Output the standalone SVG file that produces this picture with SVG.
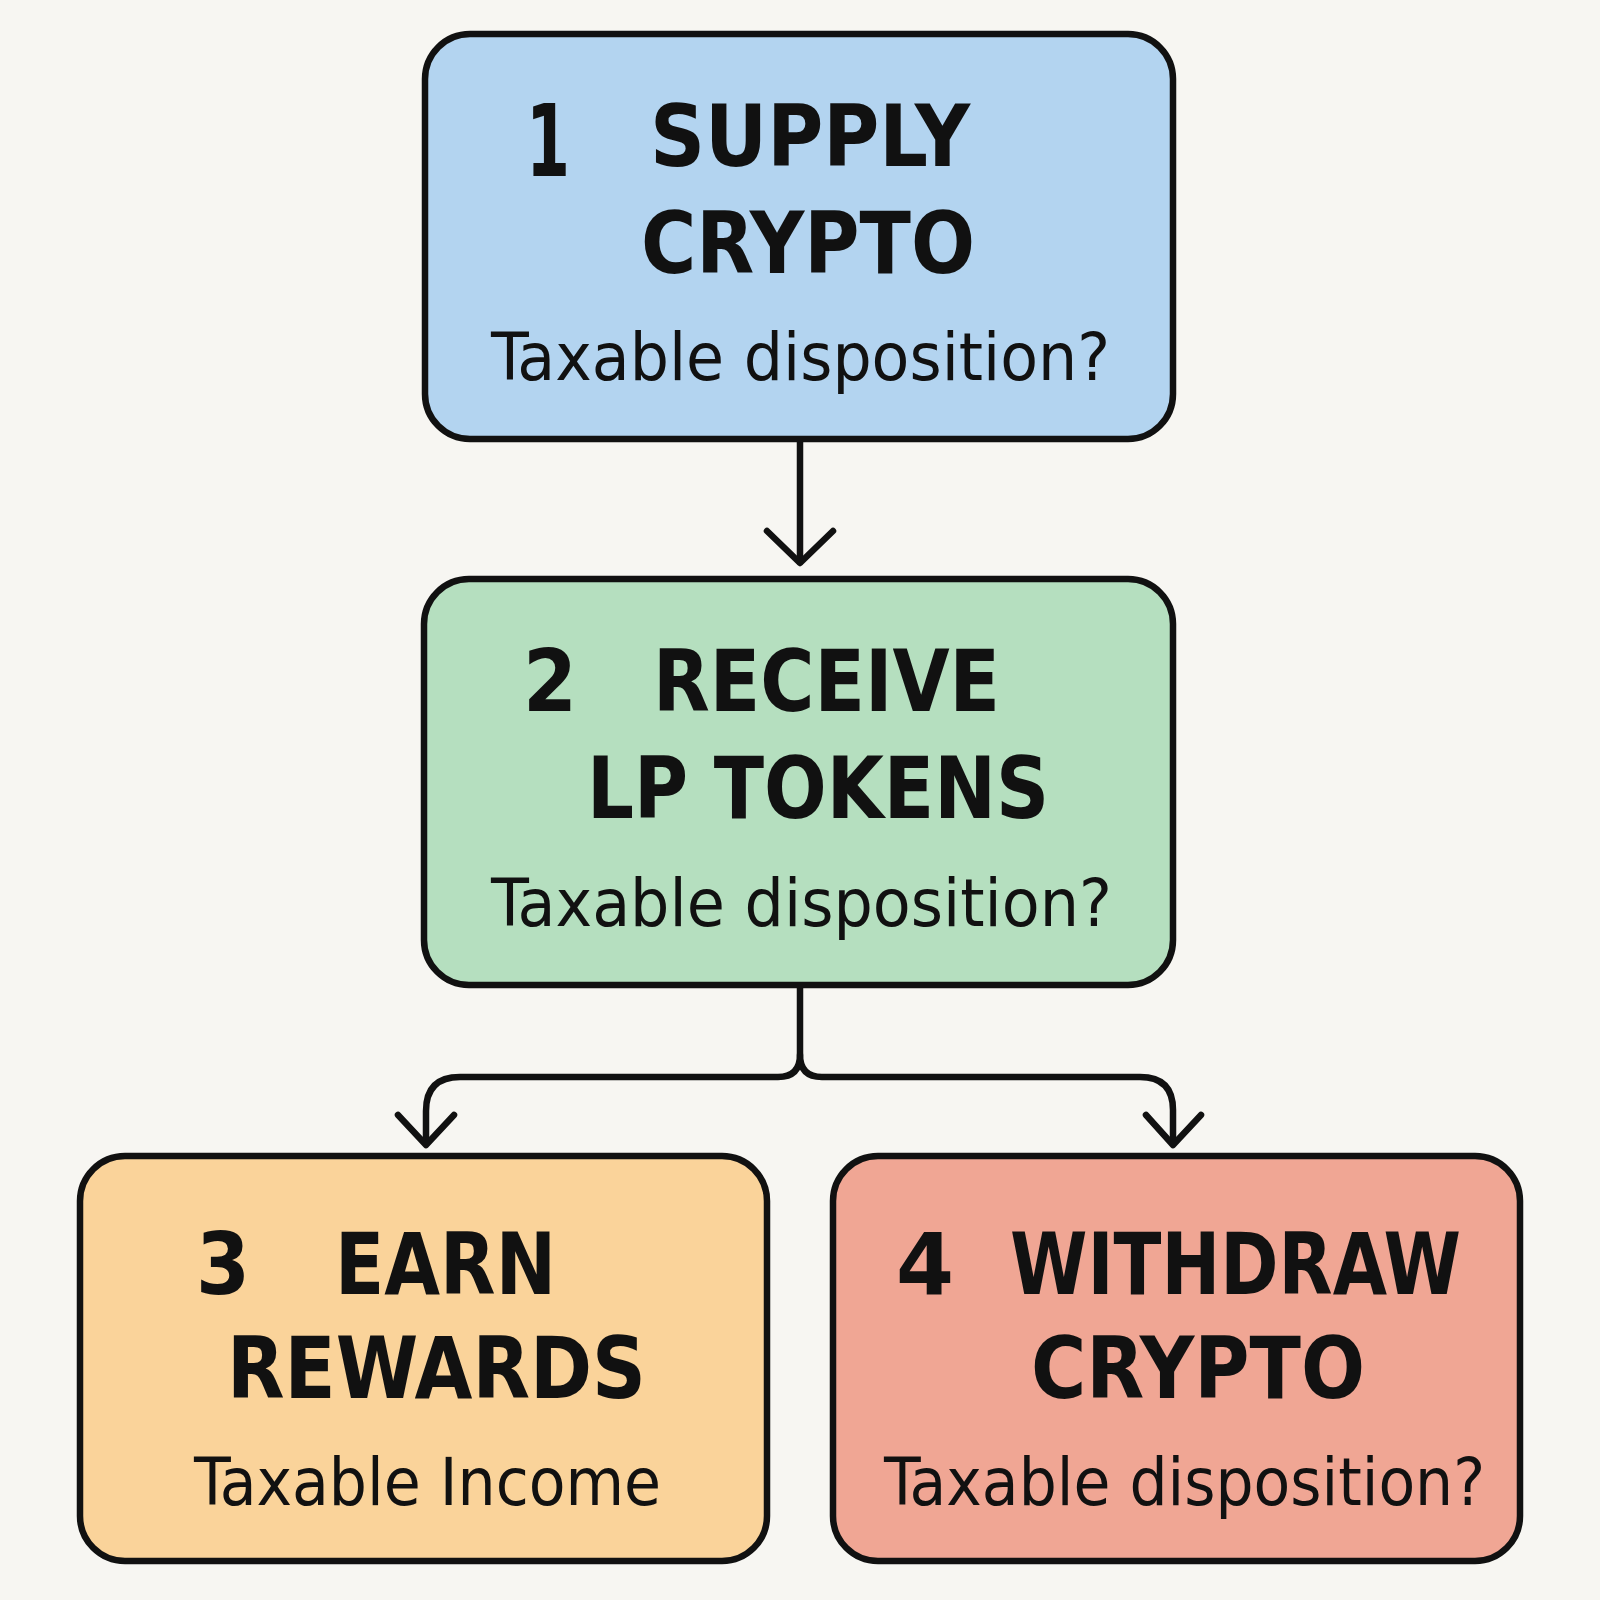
<svg xmlns="http://www.w3.org/2000/svg" width="1600" height="1600" viewBox="0 0 1600 1600">
<style>
.box{stroke:#111;stroke-width:6.5}
.t{font-family:"DejaVu Sans Condensed","DejaVu Sans","Liberation Sans",sans-serif;font-weight:bold;fill:#111;font-size:86px}
.s{font-family:"DejaVu Sans Condensed","DejaVu Sans","Liberation Sans",sans-serif;fill:#111;font-size:66px}
.c{fill:none;stroke:#111;stroke-width:6.5;stroke-linecap:round;stroke-linejoin:round}
</style>
<rect width="1600" height="1600" fill="#f7f6f2"/>
<g id="connectors">
<path class="c" d="M800,440 V562"/>
<path class="c" d="M767,531 L800,563 L833,531"/>
<path class="c" d="M800,986 V1055 Q800,1077 778,1077 H460 Q426,1077 426,1111 V1143"/>
<path class="c" d="M800,1055 Q800,1077 822,1077 H1140 Q1173,1077 1173,1110 V1143"/>
<path class="c" d="M398,1115 L426,1145 L454,1115"/>
<path class="c" d="M1146,1115 L1173,1145 L1201,1115"/>
</g>
<g id="node1">
<rect class="box" x="425" y="34" width="748" height="405" rx="45" fill="#b3d4f0"/>
<text class="t" x="526" y="176" style="font-size:100px" textLength="44" lengthAdjust="spacingAndGlyphs">1</text>
<text class="t" x="650" y="166" textLength="320" lengthAdjust="spacingAndGlyphs">SUPPLY</text>
<text class="t" x="641" y="273" textLength="334" lengthAdjust="spacingAndGlyphs">CRYPTO</text>
<text class="s" x="491" y="380" textLength="619" lengthAdjust="spacingAndGlyphs">Taxable disposition?</text>
</g>
<g id="node2">
<rect class="box" x="424" y="579" width="749" height="406" rx="45" fill="#b5dfbf"/>
<text class="t" x="523" y="711" textLength="54" lengthAdjust="spacingAndGlyphs">2</text>
<text class="t" x="653" y="711" textLength="347" lengthAdjust="spacingAndGlyphs">RECEIVE</text>
<text class="t" x="587" y="818" textLength="462" lengthAdjust="spacingAndGlyphs">LP TOKENS</text>
<text class="s" x="491" y="926" textLength="621" lengthAdjust="spacingAndGlyphs">Taxable disposition?</text>
</g>
<g id="node3">
<rect class="box" x="80" y="1156" width="687" height="405" rx="45" fill="#fad39a"/>
<text class="t" x="196" y="1294" textLength="54" lengthAdjust="spacingAndGlyphs">3</text>
<text class="t" x="335" y="1294" textLength="221" lengthAdjust="spacingAndGlyphs">EARN</text>
<text class="t" x="227" y="1398" textLength="419" lengthAdjust="spacingAndGlyphs">REWARDS</text>
<text class="s" x="194" y="1505" textLength="467" lengthAdjust="spacingAndGlyphs">Taxable Income</text>
</g>
<g id="node4">
<rect class="box" x="833" y="1156" width="687" height="405" rx="45" fill="#f0a694"/>
<text class="t" x="896" y="1294" textLength="58" lengthAdjust="spacingAndGlyphs">4</text>
<text class="t" x="1010" y="1294" textLength="451" lengthAdjust="spacingAndGlyphs">WITHDRAW</text>
<text class="t" x="1031" y="1398" textLength="334" lengthAdjust="spacingAndGlyphs">CRYPTO</text>
<text class="s" x="884" y="1505" textLength="601" lengthAdjust="spacingAndGlyphs">Taxable disposition?</text>
</g>
</svg>
